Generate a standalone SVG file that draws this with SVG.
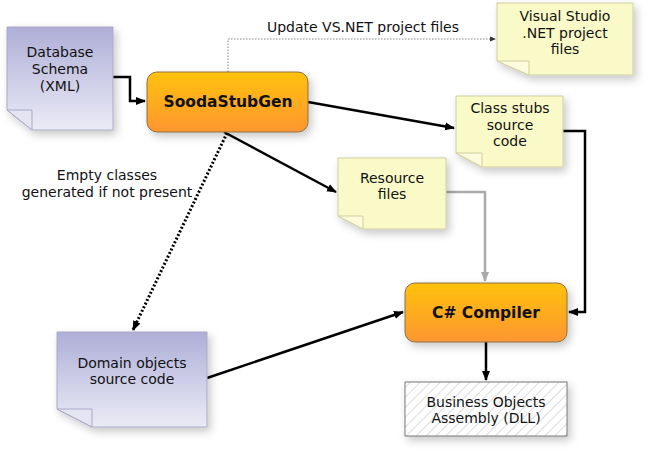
<svg xmlns="http://www.w3.org/2000/svg" width="670" height="462" viewBox="0 0 670 462">
<style>
text{font-family:"DejaVu Sans","Verdana",sans-serif;fill:#111;text-anchor:middle}
.t{font-size:14px}
.b{font-size:15.5px;font-weight:bold}
.lav{fill:url(#gLav);stroke:#a8a8c8;stroke-width:1}
.yel{fill:#fafac8;stroke:#cfcfa0;stroke-width:1}
.foldY{fill:#fcfcdc;stroke:#cfcfa0;stroke-width:1}
.foldL{fill:#e4e4f2;stroke:#a8a8c8;stroke-width:1}
.proc{fill:url(#gOr);stroke:#8a7040;stroke-width:1}
.c{fill:none;stroke:#000;stroke-width:2.5}
</style>
<defs>
<linearGradient id="gLav" x1="0" y1="0" x2="0" y2="1"><stop offset="0" stop-color="#aeaed8"/><stop offset="1" stop-color="#ebebf6"/></linearGradient>
<linearGradient id="gOr" x1="0" y1="0" x2="0" y2="1"><stop offset="0" stop-color="#ffc20c"/><stop offset="1" stop-color="#fd9631"/></linearGradient>
<pattern id="hatch" width="7" height="7" patternUnits="userSpaceOnUse" patternTransform="rotate(45)"><rect width="7" height="7" fill="#fff"/><line x1="0" y1="0" x2="0" y2="7" stroke="#dcdcdc" stroke-width="2"/></pattern>
<filter id="sh" x="-20%" y="-20%" width="150%" height="160%"><feDropShadow dx="3" dy="4" stdDeviation="4" flood-color="#000" flood-opacity="0.22"/></filter>
<marker id="ab" markerWidth="10" markerHeight="10" refX="9" refY="5" orient="auto" markerUnits="userSpaceOnUse"><path d="M0,1 L10,5 L0,9 Z" fill="#000"/></marker>
<marker id="ag" markerWidth="10" markerHeight="10" refX="9" refY="5" orient="auto" markerUnits="userSpaceOnUse"><path d="M0,1 L10,5 L0,9 Z" fill="#aaa"/></marker>
<marker id="as" markerWidth="6" markerHeight="6" refX="5" refY="3" orient="auto" markerUnits="userSpaceOnUse"><path d="M0,0.5 L6,3 L0,5.5 Z" fill="#333"/></marker>
</defs>

<g id="connectors">
<polyline class="c" points="113,77 130,77 130,101 145,101" marker-end="url(#ab)"/>
<polyline fill="none" stroke="#666" stroke-width="0.8" stroke-dasharray="1.5,1.5" points="228,72 228,39 495,39" marker-end="url(#as)"/>
<text class="t" x="363" y="32">Update VS.NET project files</text>
<line class="c" x1="308" y1="102" x2="454" y2="128" marker-end="url(#ab)"/>
<line class="c" x1="224" y1="132" x2="336" y2="192" marker-end="url(#ab)"/>
<line fill="none" stroke="#000" stroke-width="3" stroke-dasharray="2,2" x1="227" y1="133" x2="133" y2="330" marker-end="url(#ab)"/>
<text class="t" x="107" y="180">Empty classes</text>
<text class="t" x="107" y="197">generated if not present</text>
<polyline fill="none" stroke="#aaa" stroke-width="2.5" points="446,192 485,192 485,281" marker-end="url(#ag)"/>
<polyline class="c" points="563,131 585,131 585,312 569,312" marker-end="url(#ab)"/>
<line class="c" x1="207" y1="378" x2="403" y2="312" marker-end="url(#ab)"/>
<line class="c" x1="486" y1="342" x2="486" y2="380" marker-end="url(#ab)"/>
</g>

<g id="database-schema">
<path class="lav" filter="url(#sh)" d="M7,27 H113 V130 H32 L7,110 Z"/>
<path class="foldL" d="M7,110 H32 V130 Z"/>
<text class="t" x="60" y="57">Database</text>
<text class="t" x="60" y="74">Schema</text>
<text class="t" x="60" y="91">(XML)</text>
</g>

<g id="soodastubgen">
<rect class="proc" filter="url(#sh)" x="147" y="72" width="161" height="60" rx="10"/>
<text class="b" x="228" y="107">SoodaStubGen</text>
</g>

<g id="visual-studio">
<path class="yel" filter="url(#sh)" d="M497,3 H633 V75 H529 L497,61 Z"/>
<path class="foldY" d="M497,61 H529 V75 Z"/>
<text class="t" x="565" y="21">Visual Studio</text>
<text class="t" x="565" y="38">.NET project</text>
<text class="t" x="565" y="54">files</text>
</g>

<g id="class-stubs">
<path class="yel" filter="url(#sh)" d="M456,96 H563 V167 H482 L456,153 Z"/>
<path class="foldY" d="M456,153 H482 V167 Z"/>
<text class="t" x="510" y="113">Class stubs</text>
<text class="t" x="510" y="130">source</text>
<text class="t" x="510" y="146">code</text>
</g>

<g id="resource-files">
<path class="yel" filter="url(#sh)" d="M338,158 H446 V229 H363 L338,216 Z"/>
<path class="foldY" d="M338,216 H363 V229 Z"/>
<text class="t" x="392" y="183">Resource</text>
<text class="t" x="392" y="199">files</text>
</g>

<g id="domain-objects">
<path class="lav" filter="url(#sh)" d="M57,332 H207 V427 H92 L57,409 Z"/>
<path class="foldL" d="M57,409 H92 V427 Z"/>
<text class="t" x="132" y="368">Domain objects</text>
<text class="t" x="132" y="384">source code</text>
</g>

<g id="csharp-compiler">
<rect class="proc" filter="url(#sh)" x="405" y="283" width="162" height="59" rx="10"/>
<text class="b" x="486" y="318">C# Compiler</text>
</g>

<g id="business-objects">
<rect filter="url(#sh)" x="405" y="382" width="162" height="54" fill="url(#hatch)" stroke="#777" stroke-width="1"/>
<text class="t" x="486" y="407">Business Objects</text>
<text class="t" x="486" y="423">Assembly (DLL)</text>
</g>
</svg>
